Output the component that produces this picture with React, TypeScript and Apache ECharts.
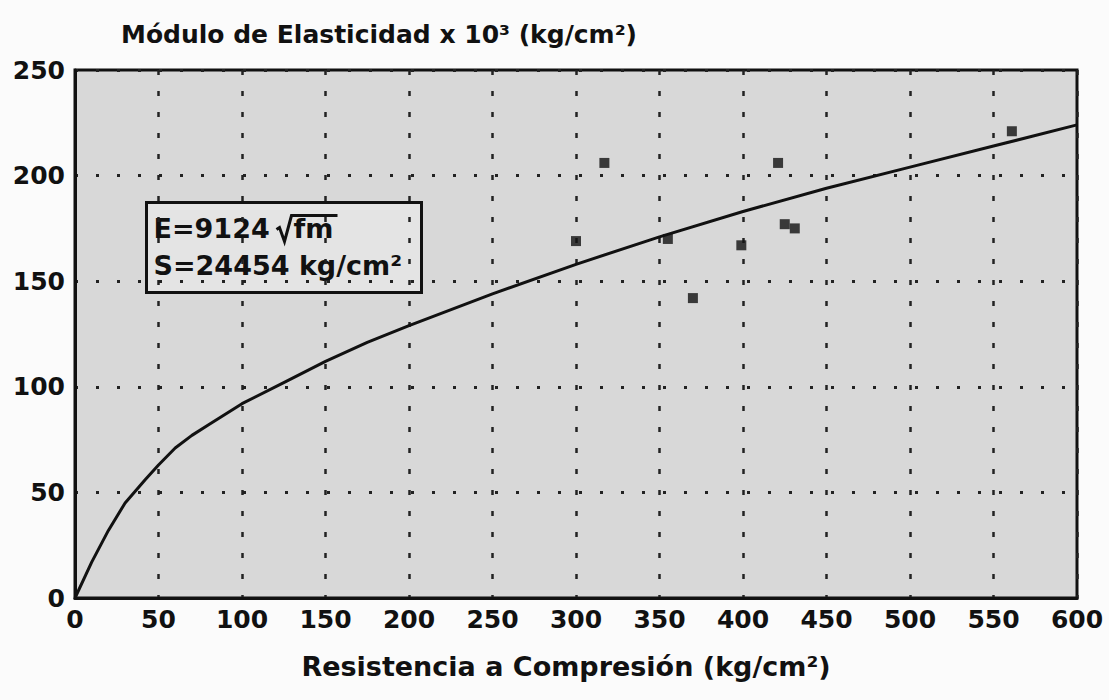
import React, { useEffect, useRef } from "react";
import * as echarts from "echarts";

const xTicks = [0, 50, 100, 150, 200, 250, 300, 350, 400, 450, 500, 550, 600];
const yTicks = [0, 50, 100, 150, 200, 250];

// Fitted curve E = 9124·√fm (x: kg/cm², y: ×10³ kg/cm²)
const curveX = [0, 10, 20, 30, 42, 50, 60, 70, 80, 100, 125, 150, 175, 200, 250, 300, 350, 400, 450, 500, 550, 600];
const curveY = [0, 17, 32, 45, 56, 63, 71, 77, 82, 92, 102, 112, 121, 129, 144, 158, 171, 183, 194, 204, 214, 224];

// Measured points
const pointX = [300, 317, 355, 370, 399, 421, 425, 431, 561];
const pointY = [169, 206, 170, 142, 167, 206, 177, 175, 221];

const FONT = "'DejaVu Sans', Verdana, sans-serif";

export default function App() {
  const ref = useRef<HTMLDivElement>(null);

  useEffect(() => {
    if (!ref.current) return;
    const chart = echarts.init(ref.current, undefined, { renderer: "svg" });
    const curve = curveX.map((x, i) => [x, curveY[i]]);
    const pts = pointX.map((x, i) => [x, pointY[i]]);

    chart.setOption({
      animation: false,
      backgroundColor: "#fbfbfb",
      title: {
        text: "Módulo de Elasticidad x 10³ (kg/cm²)",
        left: 116,
        top: 17,
        textStyle: { fontFamily: FONT, fontWeight: "bold", fontSize: 25, color: "#111" },
      },
      grid: {
        left: 75,
        top: 70,
        width: 1002,
        height: 528,
        show: true,
        backgroundColor: "#d8d8d8",
        borderColor: "#111",
        borderWidth: 3,
      },
      xAxis: {
        type: "value",
        min: 0,
        max: 600,
        interval: 50,
        name: "Resistencia a Compresión (kg/cm²)",
        nameLocation: "middle",
        nameGap: 55,
        nameTextStyle: { fontFamily: FONT, fontWeight: "bold", fontSize: 27, color: "#111", padding: [0, 20, 0, 0] },
        axisLine: { show: true, lineStyle: { color: "#111", width: 3 } },
        axisTick: { show: false },
        axisLabel: {
          fontFamily: FONT,
          fontWeight: "bold",
          fontSize: 25,
          color: "#111",
          margin: 9,
          formatter: (v: number) => (xTicks.includes(v) ? String(v) : ""),
        },
        splitLine: {
          show: true,
          lineStyle: { color: "#222", width: 2.5, type: [5, 16] },
        },
      },
      yAxis: {
        type: "value",
        min: 0,
        max: 250,
        interval: 50,
        axisLine: { show: true, lineStyle: { color: "#111", width: 3 } },
        axisTick: { show: false },
        axisLabel: {
          fontFamily: FONT,
          fontWeight: "bold",
          fontSize: 25,
          color: "#111",
          margin: 10,
          formatter: (v: number) => (yTicks.includes(v) ? String(v) : ""),
        },
        splitLine: {
          show: true,
          lineStyle: { color: "#222", width: 3, type: [3, 18] },
        },
      },
      series: [
        {
          type: "line",
          data: curve,
          showSymbol: false,
          symbol: "none",
          lineStyle: { color: "#111", width: 3 },
          z: 3,
        },
        {
          type: "scatter",
          data: pts,
          symbol: "rect",
          symbolSize: 10,
          itemStyle: { color: "#111" },
          z: 4,
        },
      ],
      graphic: [
        {
          type: "group",
          left: 145,
          top: 201,
          z: 10,
          children: [
            {
              type: "rect",
              shape: { x: 0, y: 0, width: 275, height: 90 },
              style: { fill: "#e4e4e4", stroke: "#111", lineWidth: 3 },
            },
            {
              type: "text",
              x: 7,
              y: 12,
              style: { text: "E=9124", font: `bold 27px ${FONT}`, fill: "#111" },
            },
            {
              type: "polyline",
              shape: { points: [[130, 27], [133, 25], [138, 39], [145, 13], [191, 13]] },
              style: { stroke: "#111", lineWidth: 3, fill: null },
            },
            {
              type: "text",
              x: 147,
              y: 12,
              style: { text: "fm", font: `bold 27px ${FONT}`, fill: "#111" },
            },
            {
              type: "text",
              x: 7,
              y: 49,
              style: { text: "S=24454 kg/cm²", font: `bold 27px ${FONT}`, fill: "#111" },
            },
          ],
        },
      ],
    });
    return () => chart.dispose();
  }, []);

  return (
    <div
      ref={ref}
      style={{ position: "fixed", left: 0, top: 0, width: 1109, height: 700 }}
    />
  );
}
